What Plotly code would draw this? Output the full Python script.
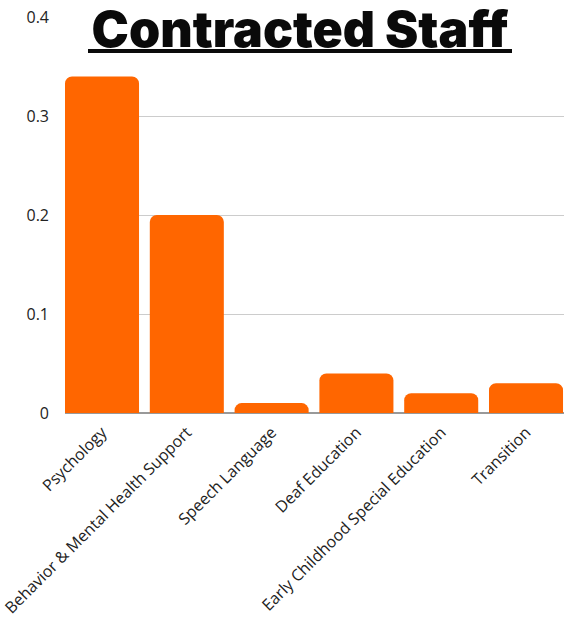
import plotly.graph_objects as go

# Service categories and share of contracted staff
categories = [
    "Psychology",
    "Behavior & Mental Health Support",
    "Speech Language",
    "Deaf Education",
    "Early Childhood Special Education",
    "Transition",
]
values = [0.34, 0.20, 0.01, 0.04, 0.02, 0.03]
y_ticks = [0, 0.1, 0.2, 0.3, 0.4]
y_tick_labels = ["0", "0.1", "0.2", "0.3", "0.4"]

W, H = 564, 617
M_L, M_R, M_T, M_B = 65, 0, 17, 204
PLOT_W = W - M_L - M_R
PLOT_H = H - M_T - M_B

BAR_GAP = 0.127
PITCH_PX = 84.8  # pixels per category slot
x_start = -0.5 + BAR_GAP / 2
x_end = x_start + PLOT_W / PITCH_PX

fig = go.Figure(
    go.Bar(
        x=categories,
        y=values,
        marker=dict(color="#FF6600", line=dict(width=0)),
        hoverinfo="x+y",
    )
)

fig.update_layout(
    width=W,
    height=H,
    margin=dict(l=M_L, r=M_R, t=M_T, b=M_B, pad=0, autoexpand=False),
    paper_bgcolor="white",
    plot_bgcolor="white",
    bargap=BAR_GAP,
    barcornerradius=7,
    showlegend=False,
    title=dict(
        text="Contracted Staff",
        x=300 / W,
        xanchor="center",
        y=1 - 29 / H,
        yanchor="middle",
        font=dict(family="Inter", size=50, color="#0a0a0a", weight=900),
    ),
    font=dict(family="Open Sans", size=15, color="#222222"),
)

# thick rule under the heading
fig.add_shape(
    type="line",
    xref="paper",
    yref="paper",
    x0=(88 - M_L) / PLOT_W,
    x1=(512 - M_L) / PLOT_W,
    y0=(H - M_B - 51) / PLOT_H,
    y1=(H - M_B - 51) / PLOT_H,
    line=dict(color="#0a0a0a", width=4),
    layer="above",
)

fig.update_xaxes(
    automargin=False,
    tickangle=-45,
    showgrid=False,
    showline=False,
    ticks="",
    ticklabelstandoff=6,
    tickfont=dict(family="Open Sans", size=16, color="#222222"),
    range=[x_start, x_end],
)
fig.update_yaxes(
    automargin=False,
    range=[0, 0.4],
    tickvals=y_ticks,
    ticktext=y_tick_labels,
    showgrid=True,
    gridcolor="#cccccc",
    gridwidth=1,
    zeroline=True,
    zerolinecolor="#999999",
    zerolinewidth=2,
    ticks="",
    ticklabelstandoff=15,
    tickfont=dict(family="Open Sans", size=16, color="#222222"),
)

fig.write_html("out.html")
